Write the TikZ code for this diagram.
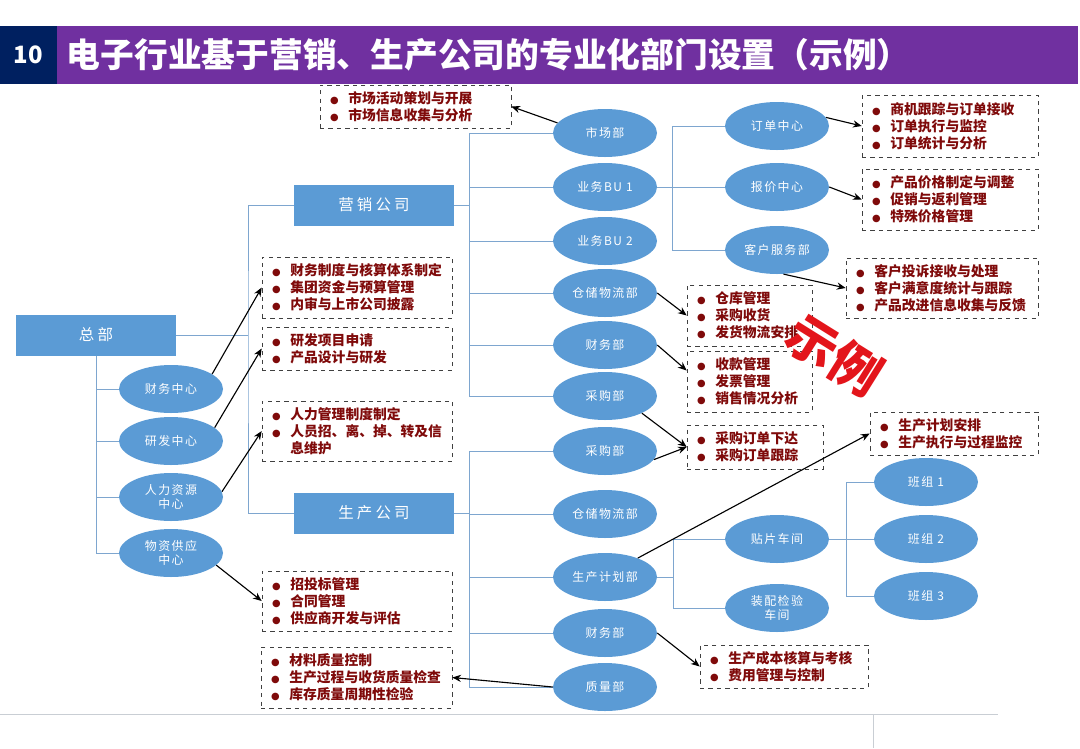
\documentclass[tikz,border=0pt]{standalone}
\usepackage{fontspec}
\setmainfont{Noto Sans CJK SC}
\newfontfamily\wideff{Noto Sans CJK SC}[LetterSpace=12]
\newfontfamily\widerff{Noto Sans CJK SC}[LetterSpace=20]
\newfontfamily\symff{DejaVu Sans}
\usepackage{tikz}
\usetikzlibrary{arrows.meta,positioning,shapes.geometric,calc}
\definecolor{navy}{HTML}{002060}
\definecolor{plum}{HTML}{7030A0}
\definecolor{cellblue}{HTML}{5B9BD5}
\definecolor{wireblue}{HTML}{7EA6CF}
\definecolor{maroon}{HTML}{7F0A0A}
\definecolor{boxgray}{HTML}{404040}
\definecolor{stampred}{HTML}{E3151B}
\definecolor{rulegray}{HTML}{C9CED4}
\newcommand\bul{{\symff\fontsize{7}{7}\selectfont\textcolor{maroon}{●}}}
\newcommand\duty[1]{\makebox[4.6mm][l]{\bul}#1}
\tikzset{
  orgbox/.style={
    rectangle, fill=cellblue, text=white,
    minimum width=40mm, minimum height=10.25mm,
    font=\widerff\fontsize{11}{13}\selectfont, inner sep=0pt
  },
  unitell/.style={
    ellipse, fill=cellblue, text=white,
    minimum width=26mm, minimum height=12mm, inner sep=0pt,
    align=center, font=\wideff\fontsize{8.5}{10.5}\selectfont
  },
  dutybox/.style={
    rectangle, draw=boxgray, dashed, thin, text width=#1,
    align=left, inner xsep=2.5mm, inner ysep=0pt, text=maroon,
    font=\bfseries\fontsize{9.8}{12.1}\selectfont
  },
  dutybox/.default=42.5mm,
  wire/.style={draw=wireblue, line width=0.7pt},
  dutyarrow/.style={-{Stealth[length=2.2mm,width=1.8mm]}, line width=0.8pt, black},
}
\begin{document}
\begin{tikzpicture}[x=0.25mm, y=-0.25mm]
  \useasboundingbox (0,0) rectangle (1080,748);
  \fill[navy] (0,26) rectangle (57,84);
  \fill[plum] (57,26) rectangle (1078,84);
  \node[text=white, font=\bfseries\fontsize{17}{20}\selectfont] (num) at (28.5,55) {10};
  \node[anchor=west, text=white, font=\bfseries\fontsize{24}{28}\selectfont] (title) at (62,55) {电子行业基于营销、生产公司的专业化部门设置（示例）};
  \draw[rulegray, line width=0.6pt] (0,714) -- (998,714);
  \draw[rulegray, line width=0.6pt] (873,714) -- (873,748);

  \node[orgbox] (hq) at (96,335) {总部};
  \node[orgbox] (mc) at (374,205) {营销公司};
  \node[orgbox] (pc) at (374,513) {生产公司};

  \node[unitell] (fc) at (171,389) {财务中心};
  \node[unitell] (rdc) at (171,441) {研发中心};
  \node[unitell] (hrc) at (171,497) {人力资源\\中心};
  \node[unitell] (supc) at (171,553) {物资供应\\中心};

  \node[unitell] (mkt) at (605,133) {市场部};
  \node[unitell] (bu1) at (605,187) {业务BU 1};
  \node[unitell] (bu2) at (605,241) {业务BU 2};
  \node[unitell] (mwh) at (605,293) {仓储物流部};
  \node[unitell] (mfin) at (605,345) {财务部};
  \node[unitell] (mpur) at (605,396) {采购部};

  \node[unitell] (ppur) at (605,451) {采购部};
  \node[unitell] (pwh) at (605,514) {仓储物流部};
  \node[unitell] (pplan) at (605,577) {生产计划部};
  \node[unitell] (pfin) at (605,633) {财务部};
  \node[unitell] (pqa) at (605,687) {质量部};

  \node[unitell] (ord) at (777,126) {订单中心};
  \node[unitell] (quo) at (777,187) {报价中心};
  \node[unitell] (cust) at (777,250) {客户服务部};
  \node[unitell] (smt) at (777,539) {贴片车间};
  \node[unitell] (asm) at (777,608) {装配检验\\车间};
  \node[unitell] (t1) at (926,482) {班组 1};
  \node[unitell] (t2) at (926,539) {班组 2};
  \node[unitell] (t3) at (926,596) {班组 3};

  \node[dutybox=42.75mm, minimum height=10.75mm] (mktbox) at (415.5,106.5) {\duty{市场活动策划与开展}\\\duty{市场信息收集与分析}};
  \node[dutybox=39mm, minimum height=15.5mm] (ordbox) at (950,126) {\duty{商机跟踪与订单接收}\\\duty{订单执行与监控}\\\duty{订单统计与分析}};
  \node[dutybox=39mm, minimum height=15.25mm] (quobox) at (950,199.5) {\duty{产品价格制定与调整}\\\duty{促销与返利管理}\\\duty{特殊价格管理}};
  \node[dutybox=43mm, minimum height=15mm] (custbox) at (942,288) {\duty{客户投诉接收与处理}\\\duty{客户满意度统计与跟踪}\\\duty{产品改进信息收集与反馈}};
  \node[dutybox=26.25mm, minimum height=15.25mm] (whbox) at (749.5,315.5) {\duty{仓库管理}\\\duty{采购收货}\\\duty{发货物流安排}};
  \node[dutybox=26.25mm, minimum height=15.25mm] (finbox) at (749.5,381.5) {\duty{收款管理}\\\duty{发票管理}\\\duty{销售情况分析}};
  \node[dutybox=29mm, minimum height=11mm] (purbox) at (755,447) {\duty{采购订单下达}\\\duty{采购订单跟踪}};
  \node[dutybox=37mm, minimum height=10.75mm] (planbox) at (954,433.5) {\duty{生产计划安排}\\\duty{生产执行与过程监控}};
  \node[dutybox=37mm, minimum height=10.75mm] (pfinbox) at (784,666.5) {\duty{生产成本核算与考核}\\\duty{费用管理与控制}};
  \node[dutybox=42.75mm, minimum height=15.25mm] (qabox) at (356.5,677.5) {\duty{材料质量控制}\\\duty{生产过程与收货质量检查}\\\duty{库存质量周期性检验}};
  \node[dutybox, minimum height=15.25mm] (hqfinbox) at (357,287.5) {\duty{财务制度与核算体系制定}\\\duty{集团资金与预算管理}\\\duty{内审与上市公司披露}};
  \node[dutybox, minimum height=10.75mm] (rdbox) at (357,348.5) {\duty{研发项目申请}\\\duty{产品设计与研发}};
  \node[dutybox, minimum height=15mm] (hrbox) at (357,431) {\duty{人力管理制度制定}\\\duty{人员招、离、掉、转及信}\\\hspace*{4.6mm}息维护};
  \node[dutybox, minimum height=15mm] (supbox) at (357,601) {\duty{招投标管理}\\\duty{合同管理}\\\duty{供应商开发与评估}};

  \coordinate (hqbus) at (248,335);
  \coordinate (mtop) at (469,133);
  \coordinate (mbot) at (469,396);
  \coordinate (ptop) at (469,451);
  \coordinate (pbot) at (469,687);
  \coordinate (btop) at (672,126);
  \coordinate (bbot) at (672,250);
  \coordinate (stop) at (673,539);
  \coordinate (sbot) at (673,608);
  \coordinate (ttop) at (846,482);
  \coordinate (tbot) at (846,596);

  \draw[wire] (hq.south) |- (supc.west);
  \foreach \e in {fc,rdc,hrc} { \draw[wire] (hq.south |- \e.west) -- (\e.west); }
  \draw[wire] (hq.east) -- (hqbus);
  \draw[wire] (mc.west) -| (hqbus) |- (pc.west);
  \draw[wire] (mtop) -- (mbot);
  \draw[wire] (mc.east) -- (mtop |- mc.east);
  \foreach \e in {mkt,bu1,bu2,mwh,mfin,mpur} { \draw[wire] (mtop |- \e.west) -- (\e.west); }
  \draw[wire] (ptop) -- (pbot);
  \draw[wire] (pc.east) -- (ptop |- pc.east);
  \foreach \e in {ppur,pwh,pplan,pfin,pqa} { \draw[wire] (ptop |- \e.west) -- (\e.west); }
  \draw[wire] (btop) -- (bbot);
  \draw[wire] (bu1.east) -- (btop |- bu1.east);
  \foreach \e in {ord,quo,cust} { \draw[wire] (btop |- \e.west) -- (\e.west); }
  \draw[wire] (stop) -- (sbot);
  \draw[wire] (pplan.east) -- (stop |- pplan.east);
  \foreach \e in {smt,asm} { \draw[wire] (stop |- \e.west) -- (\e.west); }
  \draw[wire] (ttop) -- (tbot);
  \draw[wire] (smt.east) -- (ttop |- smt.east);
  \foreach \e in {t1,t2,t3} { \draw[wire] (ttop |- \e.west) -- (\e.west); }

  \draw[dutyarrow] (fc.20) -- (hqfinbox.west);
  \draw[dutyarrow] (rdc.17) -- (rdbox.west);
  \draw[dutyarrow] (hrc.6) -- (hrbox.west);
  \draw[dutyarrow] (supc.-15) -- (supbox.west);
  \draw[dutyarrow] (mkt.168) -- (mktbox.east);
  \draw[dutyarrow] (ord.10) -- (ordbox.west);
  \draw[dutyarrow] (quo.east) -- (quobox.west);
  \draw[dutyarrow] (cust.-75) -- (custbox.west);
  \draw[dutyarrow] (mwh.east) -- (whbox.west);
  \draw[dutyarrow] (mfin.east) -- ($(finbox.west)+(0,-11)$);
  \draw[dutyarrow] (mpur.-25) -- (purbox.west);
  \draw[dutyarrow] (ppur.-10) -- (purbox.west);
  \draw[dutyarrow] (pplan.30) -- (planbox.west);
  \draw[dutyarrow] (pfin.east) -- (pfinbox.west);
  \draw[dutyarrow] (pqa.west) -- (qabox.east);

  \node[rotate=-32, text=stampred, font=\bfseries\fontsize{36}{36}\selectfont] (stamp) at (835,355) {示例};
\end{tikzpicture}
\end{document}
